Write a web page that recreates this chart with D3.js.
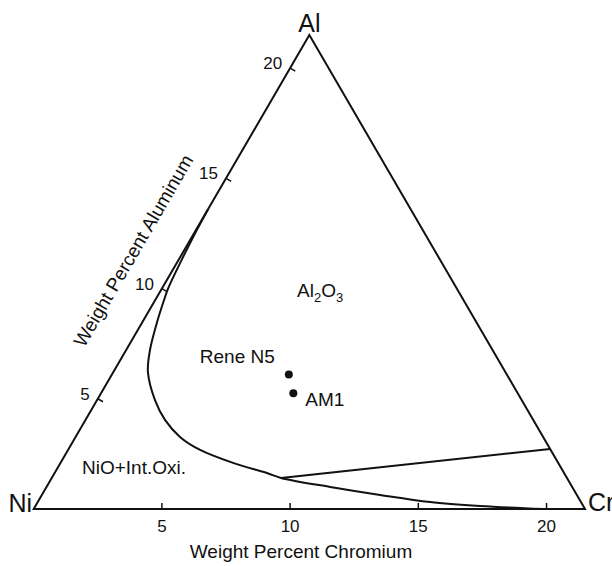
<!DOCTYPE html>
<html>
<head>
<meta charset="utf-8">
<script src="https://cdn.jsdelivr.net/npm/d3@7"></script>
<style>
  body { margin: 0; background: #fff; }
  text { font-family: "Liberation Sans", Arial, sans-serif; fill: #111; }
</style>
</head>
<body>
<div id="chart"></div>
<script>
// weight percent of the two axes, Ni is the rest
var axisMax = 21.5;
var crTicks = [5, 10, 15, 20];
var alTicks = [5, 10, 15, 20];

// oxide boundary (Cr, Al)
var boundaryCr = [19.9, 17.34, 15.3, 13.19, 11.06, 8.94, 8.28, 6.73, 5.15, 4.07, 3.10, 2.26, 1.35, 0.93, 0.55, 0.34, 0.24, 0.12, 0.04, 0];
var boundaryAl = [0, 0.14, 0.32, 0.64, 1.0, 1.41, 1.63, 2.09, 2.68, 3.27, 4.04, 4.94, 6.21, 7.21, 8.57, 9.5, 10, 11.3, 12.5, 13.6];

// tie line from the boundary to the Al-Cr edge
var tieCr = [8.94, 18.78];
var tieAl = [1.41, 2.72];

// alloys
var alloyNames = ["Rene N5", "AM1"];
var alloyCr = [6.9, 7.5];
var alloyAl = [6.1, 5.25];

var width = 612, height = 566;

// x scale runs along the base, y scale is the Al height
var x = d3.scaleLinear().domain([0, axisMax]).range([33.7, 585]);
var y = d3.scaleLinear().domain([0, axisMax]).range([509, 35]);

function px(cr, al) { return x(cr + al / 2); }
function py(al) { return y(al); }

var svg = d3.select("#chart").append("svg")
    .attr("width", width)
    .attr("height", height);

var ink = "#111";

// triangle frame
var corners = [[0, 0], [axisMax, 0], [0, axisMax]];
svg.append("path")
    .attr("d", "M" + corners.map(function(c) { return px(c[0], c[1]) + "," + py(c[1]); }).join("L") + "Z")
    .attr("fill", "none")
    .attr("stroke", ink)
    .attr("stroke-width", 2)
    .attr("stroke-linejoin", "miter");

// base ticks (chromium)
crTicks.forEach(function(t) {
  svg.append("line")
      .attr("x1", px(t, 0)).attr("y1", py(0))
      .attr("x2", px(t, 0)).attr("y2", py(0) - 6)
      .attr("stroke", ink).attr("stroke-width", 1.5);
  svg.append("text")
      .attr("x", px(t, 0))
      .attr("y", py(0) + 23)
      .attr("text-anchor", "middle")
      .attr("font-size", "17px")
      .text(t);
});

// left edge ticks (aluminum), pointing inwards
var nx = Math.cos(Math.PI / 6), ny = Math.sin(Math.PI / 6);
alTicks.forEach(function(t) {
  var tx = px(0, t), ty = py(t);
  svg.append("line")
      .attr("x1", tx).attr("y1", ty)
      .attr("x2", tx + 6 * nx).attr("y2", ty + 6 * ny)
      .attr("stroke", ink).attr("stroke-width", 1.5);
  svg.append("text")
      .attr("x", tx - 8)
      .attr("y", ty + 1)
      .attr("text-anchor", "end")
      .attr("font-size", "17px")
      .text(t);
});

// corner labels
svg.append("text").attr("x", 32).attr("y", 512).attr("text-anchor", "end")
    .attr("font-size", "25px").text("Ni");
svg.append("text").attr("x", 588).attr("y", 511).attr("text-anchor", "start")
    .attr("font-size", "25px").text("Cr");
svg.append("text").attr("x", px(0, axisMax)).attr("y", 32).attr("text-anchor", "middle")
    .attr("font-size", "25px").text("Al");

// axis titles
svg.append("text")
    .attr("x", 301).attr("y", 558)
    .attr("text-anchor", "middle")
    .attr("font-size", "19px")
    .text("Weight Percent Chromium");

var edgeAngle = Math.atan2(py(0) - py(axisMax), px(0, axisMax) - px(0, 0)) * 180 / Math.PI;
svg.append("text")
    .attr("transform", "translate(139,254) rotate(" + (-edgeAngle) + ")")
    .attr("text-anchor", "middle")
    .attr("font-size", "19px")
    .text("Weight Percent Aluminum");

// boundary curve
var boundary = boundaryCr.map(function(c, i) { return {cr: c, al: boundaryAl[i]}; });
var line = d3.line()
    .x(function(d) { return px(d.cr, d.al); })
    .y(function(d) { return py(d.al); })
    .curve(d3.curveCatmullRom.alpha(0.5));

svg.append("path")
    .datum(boundary)
    .attr("d", line)
    .attr("fill", "none")
    .attr("stroke", ink)
    .attr("stroke-width", 2);

var tie = tieCr.map(function(c, i) { return {cr: c, al: tieAl[i]}; });
svg.append("path")
    .datum(tie)
    .attr("d", d3.line().x(function(d) { return px(d.cr, d.al); }).y(function(d) { return py(d.al); }))
    .attr("fill", "none")
    .attr("stroke", ink)
    .attr("stroke-width", 2);

// alloy points
var alloys = alloyNames.map(function(n, i) { return {name: n, cr: alloyCr[i], al: alloyAl[i]}; });
svg.selectAll("circle.alloy")
    .data(alloys)
  .enter().append("circle")
    .attr("class", "alloy")
    .attr("cx", function(d) { return px(d.cr, d.al); })
    .attr("cy", function(d) { return py(d.al); })
    .attr("r", 4)
    .attr("fill", ink);

// alloy labels: Rene N5 sits up-left of its dot, AM1 to the right
svg.append("text")
    .attr("x", px(alloys[0].cr, alloys[0].al) - 89)
    .attr("y", py(alloys[0].al) - 12)
    .attr("font-size", "19px")
    .text(alloys[0].name);
svg.append("text")
    .attr("x", px(alloys[1].cr, alloys[1].al) + 12)
    .attr("y", py(alloys[1].al) + 13)
    .attr("font-size", "19px")
    .text(alloys[1].name);

// phase field labels
var oxide = svg.append("text")
    .attr("x", 297).attr("y", 297)
    .attr("font-size", "19px");
oxide.append("tspan").text("Al");
oxide.append("tspan").attr("font-size", "13px").attr("dy", 5).text("2");
oxide.append("tspan").attr("dy", -5).text("O");
oxide.append("tspan").attr("font-size", "13px").attr("dy", 5).text("3");

svg.append("text")
    .attr("x", 82).attr("y", 474)
    .attr("font-size", "19px")
    .text("NiO+Int.Oxi.");
</script>
</body>
</html>
